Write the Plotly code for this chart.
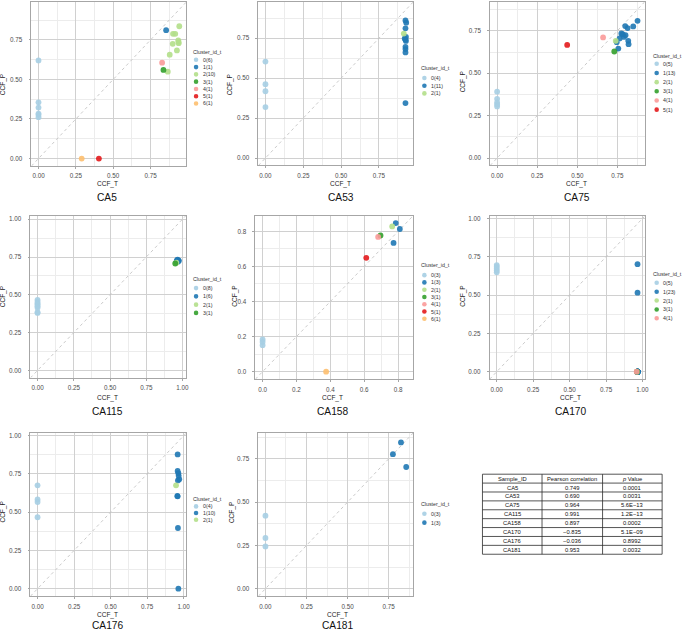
import plotly.graph_objects as go

W, H = 686, 631
FONT = "Liberation Sans, Arial, Helvetica, sans-serif"
PAL = ["#A6CEE3", "#1F78B4", "#B2DF8A", "#33A02C", "#FB9A99", "#E31A1C", "#FDBF6F"]

# ---------------- data ----------------
samples = ["CA5", "CA53", "CA75", "CA115", "CA158", "CA170", "CA176", "CA181"]

CA5_x = [0, 0, 0, 0, 0, 0, 0.854, 0.942, 0.900, 0.915, 0.935, 0.938, 0.898, 0.926, 0.878, 0.865, 0.937, 0.836, 0.827, 0.404, 0.289]
CA5_y = [0.620, 0.355, 0.322, 0.284, 0.276, 0.261, 0.811, 0.836, 0.788, 0.788, 0.746, 0.729, 0.725, 0.683, 0.656, 0.549, 0.737, 0.560, 0.606, 0.0, 0.0]
CA5_cl = [0, 0, 0, 0, 0, 0, 1, 2, 2, 2, 2, 2, 2, 2, 2, 2, 2, 3, 4, 5, 6]
CA5_leg = ["0(6)", "1(1)", "2(10)", "3(1)", "4(1)", "5(1)", "6(1)"]

CA53_x = [0, 0, 0, 0, 0.925, 0.930, 0.925, 0.928, 0.920, 0.928, 0.925, 0.925, 0.925, 0.925, 0.925, 0.914]
CA53_y = [0.604, 0.462, 0.418, 0.319, 0.861, 0.847, 0.812, 0.758, 0.748, 0.733, 0.696, 0.682, 0.661, 0.344, 0.740, 0.779]
CA53_cl = [0, 0, 0, 0, 1, 1, 1, 1, 1, 1, 1, 1, 1, 1, 1, 2]
CA53_leg = ["0(4)", "1(11)", "2(1)"]

CA75_x = [0, 0, 0, 0, 0, 0.876, 0.849, 0.799, 0.814, 0.775, 0.801, 0.791, 0.764, 0.818, 0.820, 0.746, 0.756, 0.783, 0.740, 0.731, 0.661, 0.437]
CA75_y = [0.391, 0.349, 0.328, 0.316, 0.304, 0.809, 0.776, 0.778, 0.766, 0.734, 0.724, 0.714, 0.705, 0.691, 0.671, 0.683, 0.645, 0.730, 0.691, 0.628, 0.711, 0.667]
CA75_cl = [0, 0, 0, 0, 0, 1, 1, 1, 1, 1, 1, 1, 1, 1, 1, 1, 1, 1, 2, 3, 4, 5]
CA75_leg = ["0(5)", "1(13)", "2(1)", "3(1)", "4(1)", "5(1)"]

CA115_x = [0, 0, 0, 0, 0, 0, 0, 0, 0.966, 0.972, 0.960, 0.968, 0.975, 0.963, 0.958, 0.950]
CA115_y = [0.467, 0.455, 0.443, 0.435, 0.425, 0.415, 0.385, 0.380, 0.733, 0.728, 0.722, 0.718, 0.725, 0.730, 0.712, 0.707]
CA115_cl = [0, 0, 0, 0, 0, 0, 0, 0, 1, 1, 1, 1, 1, 1, 2, 3]
CA115_leg = ["0(8)", "1(6)", "2(1)", "3(1)"]

CA158_x = [0, 0, 0, 0.786, 0.810, 0.773, 0.765, 0.696, 0.682, 0.612, 0.375]
CA158_y = [0.184, 0.169, 0.151, 0.847, 0.813, 0.734, 0.828, 0.776, 0.768, 0.649, 0.0]
CA158_cl = [0, 0, 0, 1, 1, 1, 2, 3, 4, 5, 6]
CA158_leg = ["0(3)", "1(3)", "2(1)", "3(1)", "4(1)", "5(1)", "6(1)"]

CA170_x = [0, 0, 0, 0, 0, 0.966, 0.966] + [0.966] * 21 + [0.962, 0.962, 0.960]
CA170_y = [0.696, 0.685, 0.672, 0.660, 0.649, 0.702, 0.516] + [0.0] * 21 + [0.0, 0.0, 0.0]
CA170_cl = [0, 0, 0, 0, 0, 1, 1] + [1] * 21 + [2, 3, 4]
CA170_leg = ["0(5)", "1(23)", "2(1)", "3(1)", "4(1)"]

CA176_x = [0, 0, 0, 0, 0.959, 0.959, 0.964, 0.966, 0.970, 0.961, 0.957, 0.959, 0.961, 0.964, 0.948]
CA176_y = [0.676, 0.584, 0.567, 0.467, 0.878, 0.770, 0.755, 0.738, 0.716, 0.708, 0.606, 0.604, 0.397, 0.0, 0.676]
CA176_cl = [0, 0, 0, 0, 1, 1, 1, 1, 1, 1, 1, 1, 1, 1, 2]
CA176_leg = ["0(4)", "1(10)", "2(1)"]

CA181_x = [0, 0, 0, 0.776, 0.825, 0.857]
CA181_y = [0.422, 0.293, 0.244, 0.777, 0.845, 0.703]
CA181_cl = [0, 0, 0, 1, 1, 1]
CA181_leg = ["0(3)", "1(3)"]

table_header = ["Sample_ID", "Pearson correlation", "<i>p</i> Value"]
table_ids = ["CA5", "CA53", "CA75", "CA115", "CA158", "CA170", "CA176", "CA181"]
table_r = ["0.749", "0.690", "0.964", "0.991", "0.897", "\u22120.835", "\u22120.036", "0.953"]
table_p = ["0.0001", "0.0031", "5.6E\u221213", "1.2E\u221213", "0.0002", "5.1E\u221209", "0.8992", "0.0032"]

DATA = {
    "CA5": (CA5_x, CA5_y, CA5_cl, CA5_leg),
    "CA53": (CA53_x, CA53_y, CA53_cl, CA53_leg),
    "CA75": (CA75_x, CA75_y, CA75_cl, CA75_leg),
    "CA115": (CA115_x, CA115_y, CA115_cl, CA115_leg),
    "CA158": (CA158_x, CA158_y, CA158_cl, CA158_leg),
    "CA170": (CA170_x, CA170_y, CA170_cl, CA170_leg),
    "CA176": (CA176_x, CA176_y, CA176_cl, CA176_leg),
    "CA181": (CA181_x, CA181_y, CA181_cl, CA181_leg),
}

# ---------------- geometry (pixels) ----------------
BOX = {  # left, right, top, bottom
    "CA5": (31.7, 187.7, 0, 164.5),
    "CA53": (260.3, 416.3, 0, 164.0),
    "CA75": (493.7, 649.3, 0, 164.0),
    "CA115": (30.7, 187.3, 214.3, 377.0),
    "CA158": (257.3, 416.3, 214.3, 378.3),
    "CA170": (493.3, 649.3, 215.0, 378.3),
    "CA176": (30.7, 187.7, 432.3, 596.0),
    "CA181": (260.3, 416.3, 432.3, 596.0),
}
TITLE = {  # title, x-axis title, y-axis title centres
    "CA5": ((108, 196), (108, 182.7), (2.5, 83)),
    "CA53": ((343, 196), (343, 182.7), (231.3, 83)),
    "CA75": ((581, 196), (581, 182.3), (466, 80)),
    "CA115": ((108.3, 411), (108.3, 397.5), (2.5, 295.7)),
    "CA158": ((335.3, 411), (335.3, 397.5), (236.3, 295)),
    "CA170": ((574.3, 411), (574.3, 397.5), (466, 295)),
    "CA176": ((108.3, 625.3), (108.3, 614.8), (3.5, 511.7)),
    "CA181": ((339.7, 625.3), (339.7, 614.8), (233.7, 511.7)),
}
LEG = {  # title left x, title y, first entry y, spacing
    "CA5": (192, 50, 58, 7.3),
    "CA53": (422, 66.7, 76.3, 7.7),
    "CA75": (656, 54, 62, 9.2),
    "CA115": (192, 277.5, 287, 8.3),
    "CA158": (422, 264, 274, 7.3),
    "CA170": (656, 272.7, 281.7, 8.9),
    "CA176": (192, 498.5, 506, 6.7),
    "CA181": (422, 503.7, 513.3, 9.0),
}
TAB_X = [486, 546, 607, 667]
TAB_Y0, TAB_Y1 = 473.7, 554.0


def px(x):
    return x / W


def py(y):
    return 1 - y / H


fig = go.Figure()
annotations = []
shapes = []
layout = {}

for i, s in enumerate(samples, start=1):
    xs, ys, cl, leg = DATA[s]
    m = max(max(xs), max(ys))
    lo, hi = -0.05 * m, 1.05 * m
    sfx = "" if i == 1 else str(i)
    xa, ya = "x" + sfx, "y" + sfx

    fig.add_trace(go.Scatter(x=[lo, hi], y=[lo, hi], mode="lines", xaxis=xa, yaxis=ya,
                             line=dict(color="#BDBDBD", width=0.8, dash="dot"),
                             hoverinfo="skip", showlegend=False))
    for k in range(len(leg)):
        kx = [x for x, c in zip(xs, cl) if c == k]
        ky = [y for y, c in zip(ys, cl) if c == k]
        fig.add_trace(go.Scatter(x=kx, y=ky, mode="markers", xaxis=xa, yaxis=ya,
                                 name=leg[k], showlegend=False,
                                 marker=dict(color=PAL[k], size=5.8, opacity=0.9,
                                             line=dict(width=0))))

    dt = 0.2 if s == "CA158" else 0.25
    fmt = ".1f" if s == "CA158" else ".2f"
    l, r, t, b = BOX[s]
    common = dict(showgrid=True, gridcolor="#D0D0D0", gridwidth=0.8, zeroline=False,
                  showline=True, linecolor="#A6A6A6", linewidth=0.9, mirror=True,
                  ticks="outside", ticklen=2, tickwidth=0.7, tickcolor="#A6A6A6",
                  tickfont=dict(family=FONT, size=6.3, color="#4D4D4D"),
                  tick0=0, dtick=dt, tickformat=fmt, range=[lo, hi],
                  minor=dict(showgrid=True, gridcolor="#ECECEC", gridwidth=0.6, dtick=dt / 2, tick0=0))
    layout["xaxis" + sfx] = dict(common, domain=[px(l), px(r)], anchor=ya, ticklabelstandoff=2)
    layout["yaxis" + sfx] = dict(common, domain=[py(b), py(t)], anchor=xa, ticklabelstandoff=5)

    (tx, ty), (axx, axy), (ayx, ayy) = TITLE[s]
    annotations.append(dict(x=px(tx), y=py(ty), xref="paper", yref="paper", text=s, showarrow=False,
                            xanchor="center", yanchor="middle", font=dict(family=FONT, size=10.2, color="#111")))
    annotations.append(dict(x=px(axx), y=py(axy), xref="paper", yref="paper", text="CCF_T", showarrow=False,
                            xanchor="center", yanchor="middle", font=dict(family=FONT, size=6.5, color="#222")))
    annotations.append(dict(x=px(ayx), y=py(ayy), xref="paper", yref="paper", text="CCF_P", showarrow=False,
                            textangle=-90, xanchor="center", yanchor="middle",
                            font=dict(family=FONT, size=6.5, color="#222")))

    lx, lty, ly0, sp = LEG[s]
    annotations.append(dict(x=px(lx), y=py(lty), xref="paper", yref="paper", text="Cluster_id_t",
                            showarrow=False, xanchor="left", yanchor="middle",
                            font=dict(family=FONT, size=5.3, color="#333")))
    rad = 2.3
    for k, lab in enumerate(leg):
        yy = ly0 + k * sp
        shapes.append(dict(type="circle", xref="paper", yref="paper",
                           x0=px(lx + 5.5 - rad), x1=px(lx + 5.5 + rad),
                           y0=py(yy + rad), y1=py(yy - rad),
                           fillcolor=PAL[k], line=dict(width=0), opacity=0.9))
        annotations.append(dict(x=px(lx + 10), y=py(yy), xref="paper", yref="paper", text=lab,
                                showarrow=False, xanchor="left", yanchor="middle",
                                font=dict(family=FONT, size=5.3, color="#333")))

# ---------------- table (drawn with lines and text) ----------------
columns = [table_ids, table_r, table_p]
nrows = len(table_ids) + 1
rh = (TAB_Y1 - TAB_Y0) / nrows
tline = dict(color="#2B2B2B", width=0.8)
for j in range(nrows + 1):
    yy = TAB_Y0 + j * rh
    shapes.append(dict(type="line", xref="paper", yref="paper", x0=px(TAB_X[0]), x1=px(TAB_X[-1]),
                       y0=py(yy), y1=py(yy), line=tline))
for xx in TAB_X:
    shapes.append(dict(type="line", xref="paper", yref="paper", x0=px(xx), x1=px(xx),
                       y0=py(TAB_Y0), y1=py(TAB_Y1), line=tline))
for c in range(3):
    cx = (TAB_X[c] + TAB_X[c + 1]) / 2
    cells = [table_header[c]] + columns[c]
    for rr, txt in enumerate(cells):
        cy = TAB_Y0 + (rr + 0.5) * rh
        annotations.append(dict(x=px(cx), y=py(cy), xref="paper", yref="paper", text=txt,
                                showarrow=False, xanchor="center", yanchor="middle",
                                font=dict(family=FONT, size=5.8, color="#111")))

fig.update_layout(width=W, height=H, margin=dict(l=0, r=0, t=0, b=0),
                  paper_bgcolor="white", plot_bgcolor="white",
                  showlegend=False, annotations=annotations, shapes=shapes, **layout)

fig.write_html("out.html", config={"displayModeBar": False},
               post_script="document.body.style.margin='0px';")
